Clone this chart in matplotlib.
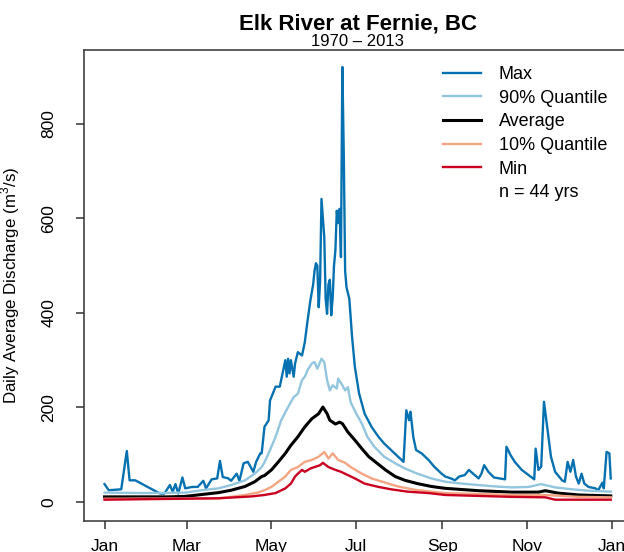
import matplotlib
matplotlib.use("Agg")
import matplotlib.pyplot as plt
from matplotlib.lines import Line2D

plt.rcParams['font.family'] = ['Liberation Sans', 'DejaVu Sans']
plt.rcParams['mathtext.fontset'] = 'custom'
plt.rcParams['mathtext.rm'] = 'Liberation Sans'

# ------------------------------------------------------------
# data (day of year, m3/s)
# ------------------------------------------------------------
max_days = [1, 4, 13, 17, 19, 23, 25, 37, 41, 44, 48, 50, 52, 54, 57, 59, 64, 68,
            72, 74, 78, 82, 84, 86, 90, 92, 96, 98, 101, 104, 108, 110, 113, 114,
            116, 119, 120, 124, 127, 128, 131, 132, 133, 134, 135, 137, 138, 140,
            143, 145, 147, 149, 151, 152, 153, 154, 155, 156, 157, 158, 159, 160,
            161, 162, 163, 164, 165, 166, 167, 168, 169, 170, 171, 172, 173, 174,
            175, 177, 179, 181, 184, 188, 193, 198, 202, 207, 212, 216, 218, 220,
            221, 223, 225, 229, 234, 238, 243, 246, 250, 253, 256, 260, 263, 266,
            270, 272, 274, 277, 281, 285, 289, 290, 293, 296, 301, 306, 310, 311,
            313, 315, 317, 319, 322, 325, 330, 332, 334, 336, 338, 340, 342, 344,
            346, 349, 354, 356, 359, 360, 362, 364, 365]
max_vals = [38, 25, 27, 108, 46, 46, 43, 24, 18, 18, 36, 22, 38, 18, 52, 29, 32, 32,
            45, 29, 48, 50, 87, 53, 50, 45, 60, 45, 82, 85, 64, 85, 103, 103,
            159, 173, 215, 244, 244, 258, 300, 265, 303, 272, 300, 265, 293, 317,
            310, 338, 384, 426, 460, 489, 505, 500, 412, 468, 641, 600, 560, 430,
            398, 460, 470, 395, 430, 500, 532, 616, 590, 620, 518, 920, 742, 489,
            454, 430, 349, 286, 230, 187, 159, 138, 124, 110, 96, 85, 194, 173,
            191, 138, 110, 103, 89, 75, 61, 54, 50, 46, 54, 57, 68, 60,
            50, 60, 78, 64, 52, 50, 48, 117, 99, 85, 68, 57, 48, 113,
            68, 75, 212, 166, 96, 64, 46, 43, 85, 64, 89, 54, 39, 60,
            39, 32, 29, 25, 41, 29, 106, 103, 50]

q90_days = [1, 30, 59, 71, 83, 92, 102, 109, 114, 116, 120, 124, 128, 133, 137, 140,
            143, 145, 147, 150, 152, 154, 157, 159, 161, 163, 165, 168, 169, 172,
            174, 176, 178, 182, 186, 190, 195, 202, 210, 217, 226, 236, 246, 258,
            270, 282, 294, 306, 315, 325, 337, 349, 365]
q90_vals = [20, 19, 20, 25, 29, 36, 46, 60, 74, 84, 110, 138, 173, 201, 222, 229,
            258, 265, 279, 293, 296, 282, 303, 296, 258, 236, 247, 240, 261, 247,
            236, 243, 211, 187, 166, 138, 117, 96, 82, 71, 60, 50, 43, 39,
            36, 33, 31, 32, 38, 31, 27, 24, 22]

avg_days = [1, 47, 59, 71, 83, 92, 102, 109, 114, 116, 121, 126, 131, 135, 140, 145,
            150, 155, 158, 161, 163, 167, 170, 172, 176, 181, 186, 191, 197, 203,
            210, 217, 226, 236, 246, 270, 294, 313, 318, 327, 342, 365]
avg_vals = [11, 11, 12, 16, 20, 25, 33, 43, 54, 56, 68, 85, 103, 120, 138, 159,
            176, 187, 201, 187, 173, 165, 169, 166, 148, 131, 113, 96, 82, 68,
            54, 46, 39, 33, 29, 24, 21, 21, 24, 19, 15, 13]

q10_days = [1, 83, 92, 102, 111, 116, 121, 126, 131, 135, 140, 145, 150, 155, 159,
            162, 165, 169, 174, 178, 186, 193, 203, 212, 224, 236, 246, 270, 294,
            318, 342, 365]
q10_vals = [7, 8, 11, 15, 20, 25, 32, 43, 54, 68, 74, 85, 89, 96, 106,
            92, 103, 89, 83, 74, 60, 50, 41, 33, 26, 22, 19, 17, 15,
            15, 11, 10]

min_days = [1, 83, 95, 107, 116, 124, 131, 135, 138, 140, 143, 145, 149, 152, 156,
            158, 162, 167, 171, 176, 181, 188, 198, 207, 219, 234, 246, 270, 294,
            318, 325, 342, 365]
min_vals = [5, 8, 10, 12, 15, 19, 29, 39, 54, 60, 68, 64, 71, 74, 78,
            83, 74, 68, 64, 57, 50, 39, 32, 27, 22, 19, 15, 13, 11,
            10, 5, 5, 5]

month_ticks = [1, 60, 121, 182, 244, 305, 366]
month_labels = ["Jan", "Mar", "May", "Jul", "Sep", "Nov", "Jan"]
y_ticks = [0, 200, 400, 600, 800]

# ------------------------------------------------------------
# figure
# ------------------------------------------------------------
fig = plt.figure(figsize=(6.24, 5.52), dpi=100)
ax = fig.add_axes([0.1351, 0.0562, 0.8761, 0.8533])

ax.plot(max_days, max_vals, color='#0571b0', lw=1.7, label='Max')
ax.plot(q90_days, q90_vals, color='#92c5de', lw=1.7, label='90% Quantile')
ax.plot(avg_days, avg_vals, color='black', lw=2.2, label='Average')
ax.plot(q10_days, q10_vals, color='#f4a582', lw=1.7, label='10% Quantile')
ax.plot(min_days, min_vals, color='#ca0020', lw=1.7, label='Min')

ax.set_xlim(-13.56, 379.56)
ax.set_ylim(-40, 956)

ax.set_xticks(month_ticks)
ax.set_xticklabels(month_labels)
ax.set_yticks(y_ticks)
ax.set_yticklabels([str(v) for v in y_ticks], rotation=90, va='center')
ax.tick_params(axis='both', direction='out', length=6, width=1.1,
               color='#333333', labelsize=12.5)
ax.tick_params(axis='x', pad=7)
ax.tick_params(axis='y', pad=14)

for s in ax.spines.values():
    s.set_color('#333333')
    s.set_linewidth(1.1)

ax.set_ylabel('Daily Average Discharge (m$^3$/s)', fontsize=12.2)
ax.yaxis.set_label_coords(-0.114, 0.5)

fig.text(0.573, 1 - 24 / 552, 'Elk River at Fernie, BC', ha='center', va='center',
         fontsize=16, fontweight='bold')
fig.text(0.573, 1 - 41 / 552, '1970 \u2013 2013', ha='center', va='center', fontsize=12)

handles, labels = ax.get_legend_handles_labels()
handles.append(Line2D([], [], color='none'))
labels.append('n = 44 yrs')
ax.legend(handles, labels, loc='upper left',
          bbox_to_anchor=(443 / 624, 1 - 66 / 552), bbox_transform=fig.transFigure,
          frameon=False, fontsize=13, handlelength=2.1, handletextpad=1.0,
          labelspacing=0.37, borderpad=0, borderaxespad=0)

fig.savefig('out.png', dpi=100)
